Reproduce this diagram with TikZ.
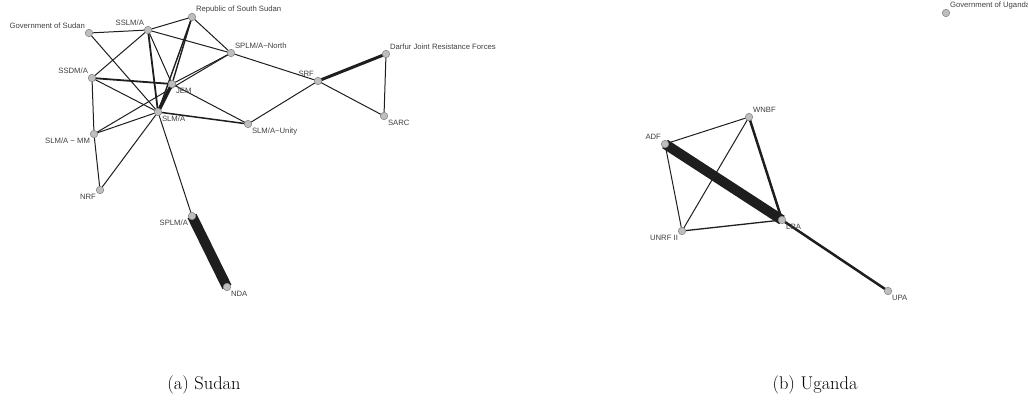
\documentclass[tikz,border=0pt]{standalone}
\usepackage{fontspec}
\newfontfamily\lblfont{Liberation Sans}
\usetikzlibrary{backgrounds}
\definecolor{tiecol}{HTML}{1E1E1E}
\definecolor{actfill}{HTML}{BEBEBE}
\definecolor{actline}{HTML}{8C8C8C}
\definecolor{lblcol}{HTML}{404040}

\begin{document}
\begin{tikzpicture}[x=1pt, y=-1pt,
    actor/.style={draw=actline, circle, fill=actfill, minimum size=7.5pt,
                  inner sep=0pt, line width=0.6pt},
    every label/.style={draw=none, fill=none, rectangle, inner sep=0.8pt,
                        text=lblcol, font=\lblfont\fontsize{7.7}{9}\selectfont},
    label distance=0.3pt,
    tie/.style={draw=tiecol, line width=1pt},
    caption/.style={font=\fontsize{18.4}{21}\selectfont, inner sep=0pt}]
    \useasboundingbox (0,0) rectangle (1028,405);

    % Sudan
    \node[actor, label=above left:Government of Sudan]   (gos)   at (89,33)   {};
    \node[actor, label=above left:SSLM/A]                (sslm)  at (148,30)  {};
    \node[actor, label=above right:Republic of South Sudan] (rss) at (192,17)  {};
    \node[actor, label=above right:SPLM/A−North]         (splmn) at (231,53)  {};
    \node[actor, label=above left:SSDM/A]                (ssdm)  at (92,78)   {};
    \node[actor, label=below right:JEM]                  (jem)   at (172,84)  {};
    \node[actor, label=below right:SLM/A]                (slm)   at (158,112) {};
    \node[actor, label=below left:SLM/A − MM]            (slmmm) at (94,134)  {};
    \node[actor, label=below right:SLM/A−Unity]          (unity) at (248,124) {};
    \node[actor, label=above left:SRF]                   (srf)   at (318,81)  {};
    \node[actor, label=above right:Darfur Joint Resistance Forces] (djrf) at (386,54) {};
    \node[actor, label=below right:SARC]                 (sarc)  at (384,116) {};
    \node[actor, label=below left:NRF]                   (nrf)   at (100,190) {};
    \node[actor, label=below left:SPLM/A]                (splm)  at (192,216) {};
    \node[actor, label=below right:NDA]                  (nda)   at (227,287) {};

    % Uganda
    \node[actor, label=above right:Government of Uganda] (gou)   at (946,13)  {};
    \node[actor, label=above right:WNBF]                 (wnbf)  at (749,117) {};
    \node[actor, label=above left:ADF]                   (adf)   at (665,144) {};
    \node[actor, label=below right:LRA]                  (lra)   at (782,220) {};
    \node[actor, label=below left:UNRF II]               (unrf)  at (682,231) {};
    \node[actor, label=below right:UPA]                  (upa)   at (888,291) {};

    \begin{scope}[on background layer]
        \draw[tie] (gos.center) -- (sslm.center);
        \draw[tie] (gos.center) -- (slm.center);
        \draw[tie] (sslm.center) -- (rss.center);
        \draw[tie] (sslm.center) -- (splmn.center);
        \draw[tie] (sslm.center) -- (ssdm.center);
        \draw[tie] (sslm.center) -- (jem.center);
        \draw[tie, line width=1.8pt] (sslm.center) -- (slm.center);
        \draw[tie] (rss.center) -- (splmn.center);
        \draw[tie, line width=1.4pt] (rss.center) -- (jem.center);
        \draw[tie, line width=1.4pt] (rss.center) -- (slm.center);
        \draw[tie] (splmn.center) -- (jem.center);
        \draw[tie] (splmn.center) -- (slmmm.center);
        \draw[tie] (splmn.center) -- (srf.center);
        \draw[tie, line width=1.8pt] (ssdm.center) -- (jem.center);
        \draw[tie] (ssdm.center) -- (slm.center);
        \draw[tie] (ssdm.center) -- (slmmm.center);
        \draw[tie, line width=3.5pt] (jem.center) -- (slm.center);
        \draw[tie] (jem.center) -- (unity.center);
        \draw[tie, line width=1.5pt] (slm.center) -- (unity.center);
        \draw[tie] (slm.center) -- (slmmm.center);
        \draw[tie] (slm.center) -- (nrf.center);
        \draw[tie] (slm.center) -- (splm.center);
        \draw[tie] (slmmm.center) -- (nrf.center);
        \draw[tie] (unity.center) -- (srf.center);
        \draw[tie, line width=3pt] (srf.center) -- (djrf.center);
        \draw[tie] (srf.center) -- (sarc.center);
        \draw[tie] (djrf.center) -- (sarc.center);
        \draw[tie, line width=10pt] (splm.center) -- (nda.center);

        \draw[tie] (adf.center) -- (wnbf.center);
        \draw[tie, line width=10pt] (adf.center) -- (lra.center);
        \draw[tie] (adf.center) -- (unrf.center);
        \draw[tie] (wnbf.center) -- (unrf.center);
        \draw[tie, line width=2.5pt] (wnbf.center) -- (lra.center);
        \draw[tie, line width=1.3pt] (unrf.center) -- (lra.center);
        \draw[tie, line width=2.5pt] (lra.center) -- (upa.center);
    \end{scope}

    \node[caption] (capa) at (204,385) {(a) Sudan};
    \node[caption] (capb) at (815,385) {(b) Uganda};
\end{tikzpicture}
\end{document}
